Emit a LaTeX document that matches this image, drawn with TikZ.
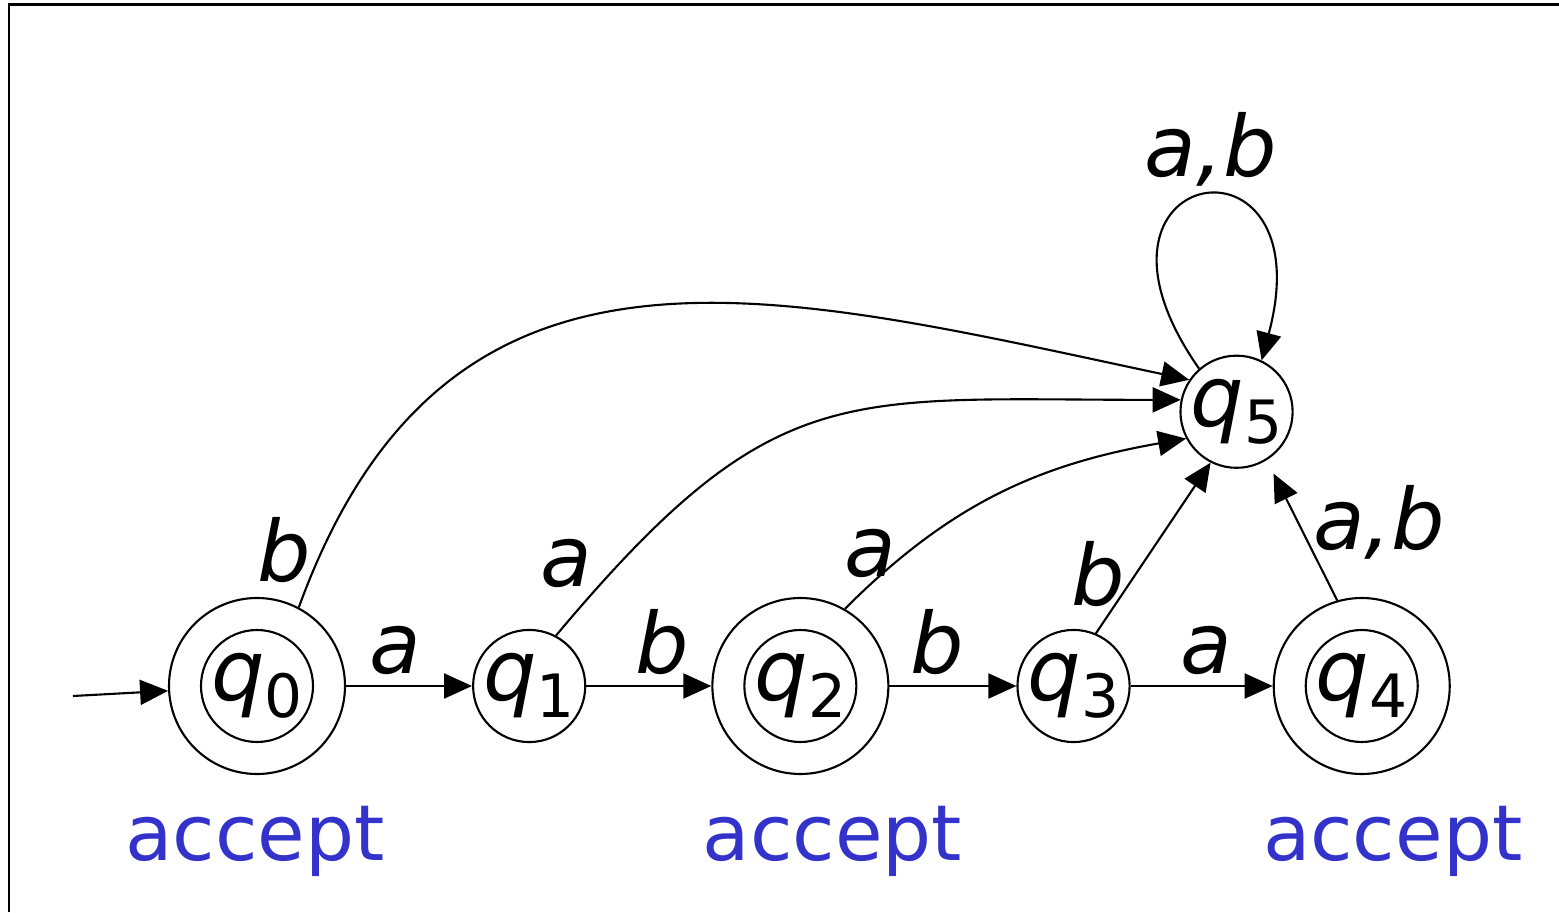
\documentclass[tikz,border=0pt]{standalone}
\usepackage{fontspec}
\setmainfont{DejaVu Sans}
\usepackage{xcolor}
\usetikzlibrary{positioning,arrows.meta}
\definecolor{acceptblue}{RGB}{51,51,204}
\newcommand{\qst}[1]{\textit{q}\raisebox{-0.2em}{\fontsize{17}{17}\selectfont #1}}

\begin{document}
\begin{tikzpicture}[
    node distance=1.26cm,
    state/.style={draw, circle, line width=0.6pt, minimum size=1.12cm, inner sep=0pt, font=\fontsize{24}{24}\selectfont},
    acc/.style={state, minimum size=1.76cm, path picture={\draw[line width=0.6pt] (path picture bounding box.center) circle (0.56cm);}},
    arr/.style={-{Triangle[length=2.8mm,width=2.5mm]}, line width=0.6pt},
    lbl/.style={font=\fontsize{24}{24}\selectfont\itshape, inner sep=1mm},
    acctext/.style={font=\fontsize{22}{22}\selectfont, text=acceptblue, inner sep=0pt}
]
    \useasboundingbox (0,0) rectangle (15.59,9.12);
    \draw[line width=0.85pt] (0.09,0) -- (0.09,9.07) -- (15.59,9.07);

    \node[acc] (q0) at (2.57,2.26) {\qst{0}};
    \node[state, right=1.26cm of q0] (q1) {\qst{1}};
    \node[acc, right=1.25cm of q1] (q2) {\qst{2}};
    \node[state, right=1.27cm of q2] (q3) {\qst{3}};
    \node[acc, right=1.42cm of q3] (q4) {\qst{4}};
    \node[state, above=1.60cm of q3, xshift=1.63cm] (q5) {\qst{5}};
    \coordinate (start) at (0.73,2.16);

    \node[acctext, below=0.3cm of q0, xshift=-0.02cm] (acc0) {accept};
    \node[acctext, below=0.3cm of q2, xshift=0.32cm] (acc2) {accept};
    \node[acctext, below=0.3cm of q4, xshift=0.31cm] (acc4) {accept};

    \draw[arr] (start) -- (q0);
    \draw[arr] (q0) -- node[lbl, above, pos=0.39] {a} (q1);
    \draw[arr] (q1) -- node[lbl, above, pos=0.61] {b} (q2);
    \draw[arr] (q2) -- node[lbl, above, pos=0.38] {b} (q3);
    \draw[arr] (q3) -- node[lbl, above, pos=0.53] {a} (q4);

    \draw[arr] (q0.62) to[out=70, in=168, looseness=1.2] node[lbl, left, pos=0.05] {b} (q5.146);
    \draw[arr] (q1.62) to[out=50, in=180, looseness=1.3] node[lbl, left, pos=0.12, xshift=-0.25cm, yshift=-0.1cm] {a} (q5.168);
    \draw[arr] (q2.60) to[out=45, in=190] node[lbl, left, pos=0.2] {a} (q5.208);
    \draw[arr] (q3.67) -- node[lbl, left, pos=0.35] {b} (q5.243);
    \draw[arr, shorten >=0.15cm] (q4.106) -- node[lbl, right, pos=0.5, yshift=0.08cm] {a,b} (q5.302);
    \draw[arr] (q5.131) .. controls +(125:2.5) and +(75:2.5) .. node[lbl, above, midway, xshift=0.1cm] {a,b} (q5.64);
\end{tikzpicture}
\end{document}
